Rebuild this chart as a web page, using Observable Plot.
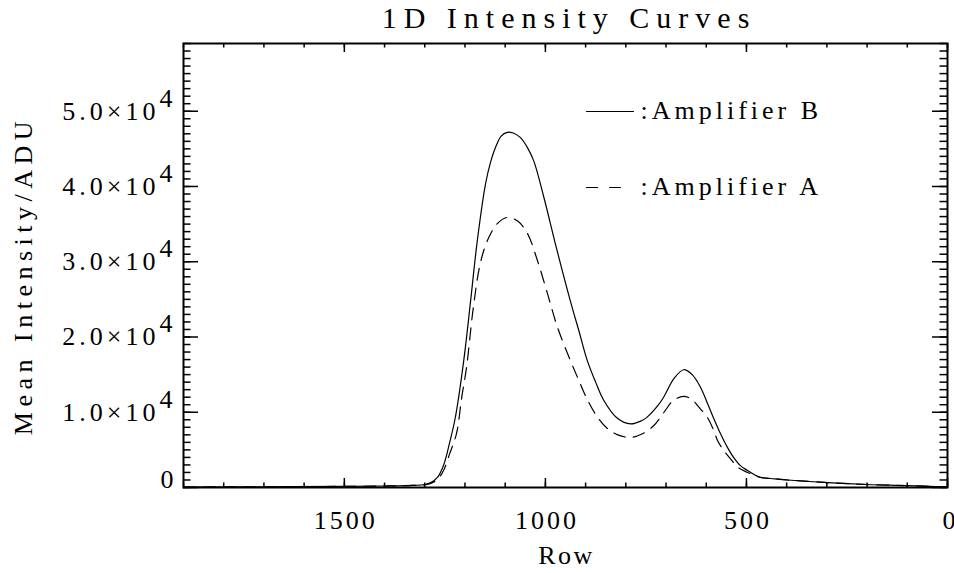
<!DOCTYPE html>
<html>
<head>
<meta charset="utf-8">
<script src="https://cdn.jsdelivr.net/npm/d3@7"></script>
<script src="https://cdn.jsdelivr.net/npm/@observablehq/plot@0.6"></script>
<style>
  body { margin: 0; background: #fff; }
  #chart { width: 954px; height: 573px; }
</style>
</head>
<body>
<div id="chart"></div>
<script>
// ---- data ----
const rowsB = [1900,1700,1500,1400,1330,1300,1285,1268,1253,1238,1224,1203,1186,1170,1149,1136,1124,1110,1095,1080,1062,1045,1029,1004,971,938,915,896,875,855,821,788,760,747,720,706,680,656,635,614,597,580,565,548,532,515,497,480,465,430,398,298,199,99,0];
const valsB = [60,100,150,200,280,400,650,1370,3000,6000,9300,16900,24800,32500,40300,43300,45200,46700,47200,47100,46500,45200,43400,38600,31500,24800,20500,16900,14000,11600,9200,8450,8900,9350,10900,12000,14500,15650,15000,13300,11200,9000,7200,5400,4000,2900,2250,1700,1350,1150,1000,650,400,250,50];

const rowsA = [1900,1700,1500,1400,1330,1300,1285,1268,1253,1238,1221,1208,1196,1179,1161,1141,1119,1094,1069,1045,1020,995,970,938,915,895,870,846,820,788,760,731,705,681,656,635,622,597,580,572,555,540,522,497,480,465,430,398,298,199,99,0];
const valsA = [60,100,150,200,270,350,550,1100,2300,4500,7200,12000,16000,24000,30000,33200,35100,35900,35400,33800,30200,25800,21300,16900,14000,11600,9300,7850,7000,6650,7100,8200,10000,11600,12100,11700,10900,9300,7400,6250,4800,3850,2700,2000,1600,1330,1150,1000,650,400,250,50];

const xMajor = [1500, 1000, 500, 0];
const xMinor = d3.range(0, 1901, 100);
const yMajor = [0, 10000, 20000, 30000, 40000, 50000];
const yMinor = d3.range(0, 59001, 1000);
const yExponent = "4";
const title = "1D Intensity Curves";
const xLabel = "Row";
const yLabel = "Mean Intensity/ADU";
const seriesNames = ["Amplifier B", "Amplifier A"];

// ---- tables ----
const dataB = rowsB.map((r, i) => ({row: r, val: valsB[i]}));
const dataA = rowsA.map((r, i) => ({row: r, val: valsA[i]}));

const W = 954, H = 573, mL = 183, mR = 7, mT = 43, mB = 86;
const fw = W - mL - mR, fh = H - mT - mB;
const lineShape = {draw(ctx, l) { ctx.moveTo(0, 0); ctx.lineTo(0, -l); }};

const chart = Plot.plot({
  width: W, height: H,
  marginLeft: mL, marginRight: mR, marginTop: mT, marginBottom: mB,
  style: {fontFamily: "'Liberation Serif', serif", fontSize: "26px", background: "white", color: "black", overflow: "visible"},
  x: {domain: [1900, 0], axis: null},
  y: {domain: [0, 59000], axis: null},
  marks: [
    // curves
    Plot.line(dataB, {x: "row", y: "val", curve: "catmull-rom", stroke: "black", strokeWidth: 1.2}),
    Plot.line(dataA, {x: "row", y: "val", curve: "catmull-rom", stroke: "black", strokeWidth: 1.2, strokeDasharray: "12,8"}),
    // inward ticks
    Plot.tickX(xMinor, {x: d => d, insetTop: fh - 4.5, strokeWidth: 1.5}),
    Plot.tickX(xMinor, {x: d => d, insetBottom: fh - 4.5, strokeWidth: 1.5}),
    Plot.tickX(xMajor, {x: d => d, insetTop: fh - 9, strokeWidth: 1.5}),
    Plot.tickX(xMajor, {x: d => d, insetBottom: fh - 9, strokeWidth: 1.5}),
    Plot.tickY(yMinor, {y: d => d, insetRight: fw - 7.5, strokeWidth: 1.5}),
    Plot.tickY(yMinor, {y: d => d, insetLeft: fw - 7.5, strokeWidth: 1.5}),
    Plot.tickY(yMajor, {y: d => d, insetRight: fw - 15, strokeWidth: 1.5}),
    Plot.tickY(yMajor, {y: d => d, insetLeft: fw - 15, strokeWidth: 1.5}),
    Plot.frame({stroke: "black", strokeWidth: 2}),
    // tick labels
    Plot.text(xMajor, {x: d => d, frameAnchor: "bottom", dy: 33, dx: 1.5, text: d => String(d), lineAnchor: "middle"}),
    Plot.text(yMajor.filter(d => d > 0), {y: d => d, frameAnchor: "left", dx: -24, textAnchor: "end", lineAnchor: "middle", text: d => `${(d / 1e4).toFixed(1)}×10`}),
    Plot.text(yMajor.filter(d => d > 0), {y: d => d, frameAnchor: "left", dx: -11, dy: -13, textAnchor: "end", lineAnchor: "middle", text: () => yExponent}),
    Plot.text(yMajor.filter(d => d === 0), {y: d => d, frameAnchor: "left", dx: -10, dy: -8, textAnchor: "end", lineAnchor: "middle", text: d => String(d)}),
    // titles
    Plot.text([title], {frameAnchor: "top", dy: -25, dx: 3.5, text: d => d, fontSize: 30, lineAnchor: "middle"}),
    Plot.text([xLabel], {frameAnchor: "bottom", dy: 68, dx: 1, text: d => d, lineAnchor: "middle"}),
    Plot.text([yLabel], {frameAnchor: "left", dx: -160, dy: 10, rotate: -90, textAnchor: "middle", text: d => d, lineAnchor: "middle"}),
    // legend
    Plot.vector([seriesNames[0]], {frameAnchor: "top-left", dx: 403, dy: 68, length: 47, rotate: 90, anchor: "start", shape: lineShape, stroke: "black", strokeWidth: 1.2}),
    Plot.vector([seriesNames[1]], {frameAnchor: "top-left", dx: 403, dy: 144, length: 34, rotate: 90, anchor: "start", shape: lineShape, stroke: "black", strokeWidth: 1.2, strokeDasharray: "11,12"}),
    Plot.text([seriesNames[0]], {frameAnchor: "top-left", dx: 457, dy: 67, text: d => ":" + d, textAnchor: "start", lineAnchor: "middle"}),
    Plot.text([seriesNames[1]], {frameAnchor: "top-left", dx: 457, dy: 143, text: d => ":" + d, textAnchor: "start", lineAnchor: "middle"})
  ]
});

// wide Hershey-like spacing of the original lettering
function spacingFor(t) {
  if (t === title) return 7;
  if (t === yLabel) return 5.5;
  if (t === xLabel) return 2.5;
  if (t.startsWith(":")) return 4;
  if (t.includes("×")) return 4;
  if (/^\d+$/.test(t) && t.length > 1) return 3;
  return 0;
}
d3.select(chart).selectAll("text").each(function () {
  const s = spacingFor(this.textContent);
  if (s) this.style.letterSpacing = s + "px";
});
document.getElementById("chart").append(chart);
</script>
</body>
</html>
